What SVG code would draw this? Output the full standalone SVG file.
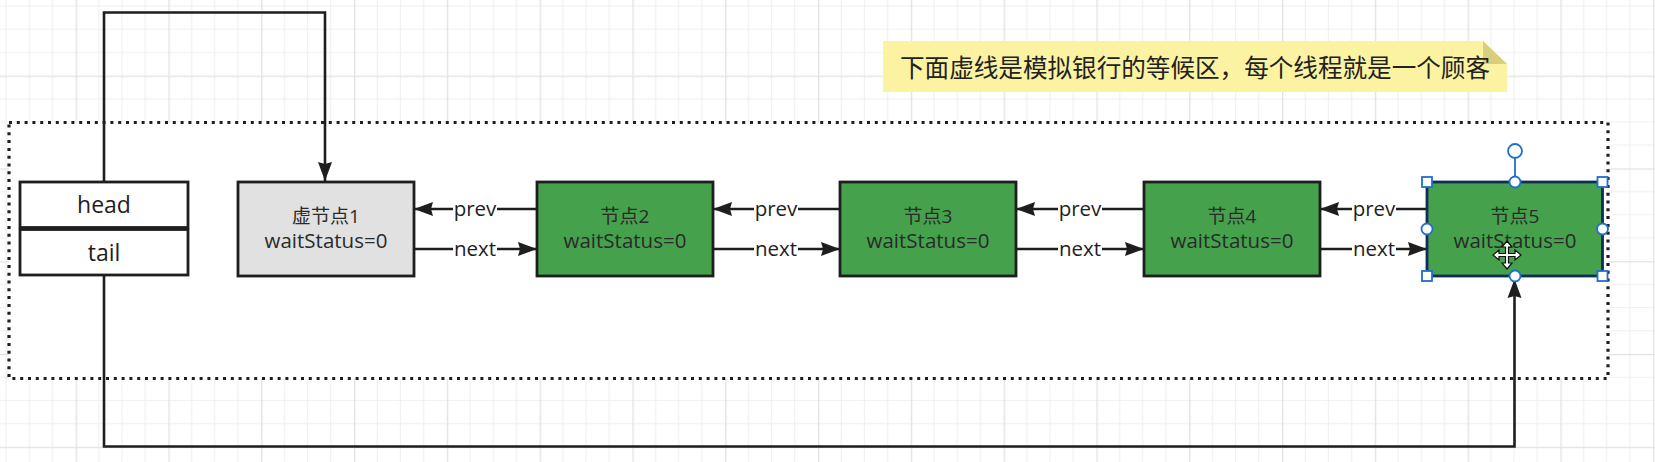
<svg xmlns="http://www.w3.org/2000/svg" width="1655" height="462" viewBox="0 0 1655 462">
<style>
.ln{fill:none;stroke:#1e1e1e;stroke-width:2.6}
.box{stroke:#1e1e1e;stroke-width:2.8}
.gray{fill:#e1e1e1}
.green{fill:#45a14c}
.t1{font-family:"Open Sans","Noto Sans CJK SC",sans-serif;font-size:19px;fill:#2a2a2a;text-anchor:middle}
.t2{font-family:"Open Sans","Noto Sans CJK SC",sans-serif;font-size:20.5px;fill:#2a2a2a;text-anchor:middle}
.lbl{font-family:"Open Sans","Liberation Sans",sans-serif;font-size:20.5px;fill:#1e1e1e;text-anchor:middle}
.ht{font-family:"Open Sans","Liberation Sans",sans-serif;font-size:23px;fill:#1e1e1e;text-anchor:middle}
.lblbg{fill:#ffffff}
.hdl{fill:#ffffff;stroke:#1f6fcf;stroke-width:1.8}
</style>
<defs>
<pattern id="grid" patternUnits="userSpaceOnUse" x="-17.2" y="-17.2" width="92.8" height="92.8">
<path d="M23.2 0V92.8M46.4 0V92.8M69.6 0V92.8M0 23.2H92.8M0 46.4H92.8M0 69.6H92.8" stroke="#f0f0f0" stroke-width="1.2"/>
<path d="M0.6 0V92.8M0 0.6H92.8" stroke="#e2e2e2" stroke-width="1.4"/>
</pattern>
<marker id="arr" markerUnits="userSpaceOnUse" markerWidth="20" markerHeight="16" refX="19" refY="8" orient="auto">
<path d="M0,1 L19,8 L0,15 L2,8 Z" fill="#1e1e1e"/>
</marker>
</defs>
<rect x="0" y="0" width="1655" height="462" fill="#ffffff"/>
<rect x="0" y="0" width="1655" height="462" fill="url(#grid)"/>

<g id="waiting-area">
<rect x="9" y="122.5" width="1599" height="256" fill="#ffffff" stroke="#1e1e1e" stroke-width="3.2" stroke-dasharray="3 4.8"/>
</g>

<g id="note">
<path d="M883 41 H1483 L1507 64 V92 H883 Z" fill="#fbf3a2"/>
<path d="M1483 41 L1507 64 H1483 Z" fill="#d8ce7c"/>
<text x="900" y="77" font-family="'Noto Sans CJK SC',sans-serif" font-size="24.6" fill="#222222" textLength="590" lengthAdjust="spacing">下面虚线是模拟银行的等候区，每个线程就是一个顾客</text>
</g>

<g id="connectors">
<polyline class="ln" points="104,182 104,12.5 325,12.5 325,181" marker-end="url(#arr)"/>
<polyline class="ln" points="104,275 104,446.5 1514.5,446.5 1514.5,279" marker-end="url(#arr)"/>
<line class="ln" x1="537" y1="209" x2="414" y2="209" marker-end="url(#arr)"/>
<line class="ln" x1="414" y1="249" x2="537" y2="249" marker-end="url(#arr)"/>
<line class="ln" x1="840" y1="209" x2="713" y2="209" marker-end="url(#arr)"/>
<line class="ln" x1="713" y1="249" x2="840" y2="249" marker-end="url(#arr)"/>
<line class="ln" x1="1144" y1="209" x2="1016" y2="209" marker-end="url(#arr)"/>
<line class="ln" x1="1016" y1="249" x2="1144" y2="249" marker-end="url(#arr)"/>
<line class="ln" x1="1427" y1="209" x2="1320" y2="209" marker-end="url(#arr)"/>
<line class="ln" x1="1320" y1="249" x2="1427" y2="249" marker-end="url(#arr)"/>
<rect class="lblbg" x="453" y="198" width="44" height="22"/>
<text class="lbl" x="475" y="216">prev</text>
<rect class="lblbg" x="453" y="238" width="44" height="22"/>
<text class="lbl" x="475" y="256">next</text>
<rect class="lblbg" x="754" y="198" width="44" height="22"/>
<text class="lbl" x="776" y="216">prev</text>
<rect class="lblbg" x="754" y="238" width="44" height="22"/>
<text class="lbl" x="776" y="256">next</text>
<rect class="lblbg" x="1058" y="198" width="44" height="22"/>
<text class="lbl" x="1080" y="216">prev</text>
<rect class="lblbg" x="1058" y="238" width="44" height="22"/>
<text class="lbl" x="1080" y="256">next</text>
<rect class="lblbg" x="1352" y="198" width="44" height="22"/>
<text class="lbl" x="1374" y="216">prev</text>
<rect class="lblbg" x="1352" y="238" width="44" height="22"/>
<text class="lbl" x="1374" y="256">next</text>
</g>

<g id="head">
<rect class="box" x="20" y="182" width="168" height="45.5" fill="#ffffff"/>
<text class="ht" x="104" y="213">head</text>
</g>
<g id="tail">
<rect class="box" x="20" y="229.5" width="168" height="45.5" fill="#ffffff"/>
<text class="ht" x="104" y="261">tail</text>
</g>

<g id="node1">
<rect class="box gray" x="238" y="182" width="176" height="94"/>
<text class="t1" x="326" y="223">虚节点1</text>
<text class="t2" x="326" y="248">waitStatus=0</text>
</g>
<g id="node2">
<rect class="box green" x="537" y="182" width="176" height="94"/>
<text class="t1" x="625" y="223">节点2</text>
<text class="t2" x="625" y="248">waitStatus=0</text>
</g>
<g id="node3">
<rect class="box green" x="840" y="182" width="176" height="94"/>
<text class="t1" x="928" y="223">节点3</text>
<text class="t2" x="928" y="248">waitStatus=0</text>
</g>
<g id="node4">
<rect class="box green" x="1144" y="182" width="176" height="94"/>
<text class="t1" x="1232" y="223">节点4</text>
<text class="t2" x="1232" y="248">waitStatus=0</text>
</g>
<g id="node5">
<rect x="1427" y="182" width="175.5" height="94" fill="#45a14c" stroke="#0f2d55" stroke-width="2.8"/>
<text class="t1" x="1515" y="223">节点5</text>
<text class="t2" x="1515" y="248">waitStatus=0</text>
<line x1="1515" y1="182" x2="1515" y2="157" stroke="#1f6fcf" stroke-width="1.8"/>
<circle class="hdl" cx="1515" cy="151" r="7"/>
<rect class="hdl" x="1422" y="177" width="10" height="10"/>
<rect class="hdl" x="1597.5" y="177" width="10" height="10"/>
<rect class="hdl" x="1422" y="271" width="10" height="10"/>
<rect class="hdl" x="1597.5" y="271" width="10" height="10"/>
<circle class="hdl" cx="1515" cy="182" r="5.5"/>
<circle class="hdl" cx="1515" cy="276" r="5.5"/>
<circle class="hdl" cx="1427" cy="229" r="5.5"/>
<circle class="hdl" cx="1602.5" cy="229" r="5.5"/>
<path transform="translate(1507 255)" d="M0,-14 L5,-8 L1.5,-8 L1.5,-1.5 L8,-1.5 L8,-5 L14,0 L8,5 L8,1.5 L1.5,1.5 L1.5,8 L5,8 L0,14 L-5,8 L-1.5,8 L-1.5,1.5 L-8,1.5 L-8,5 L-14,0 L-8,-5 L-8,-1.5 L-1.5,-1.5 L-1.5,-8 L-5,-8 Z" fill="#ffffff" stroke="#111111" stroke-width="1.2"/>
</g>
</svg>
